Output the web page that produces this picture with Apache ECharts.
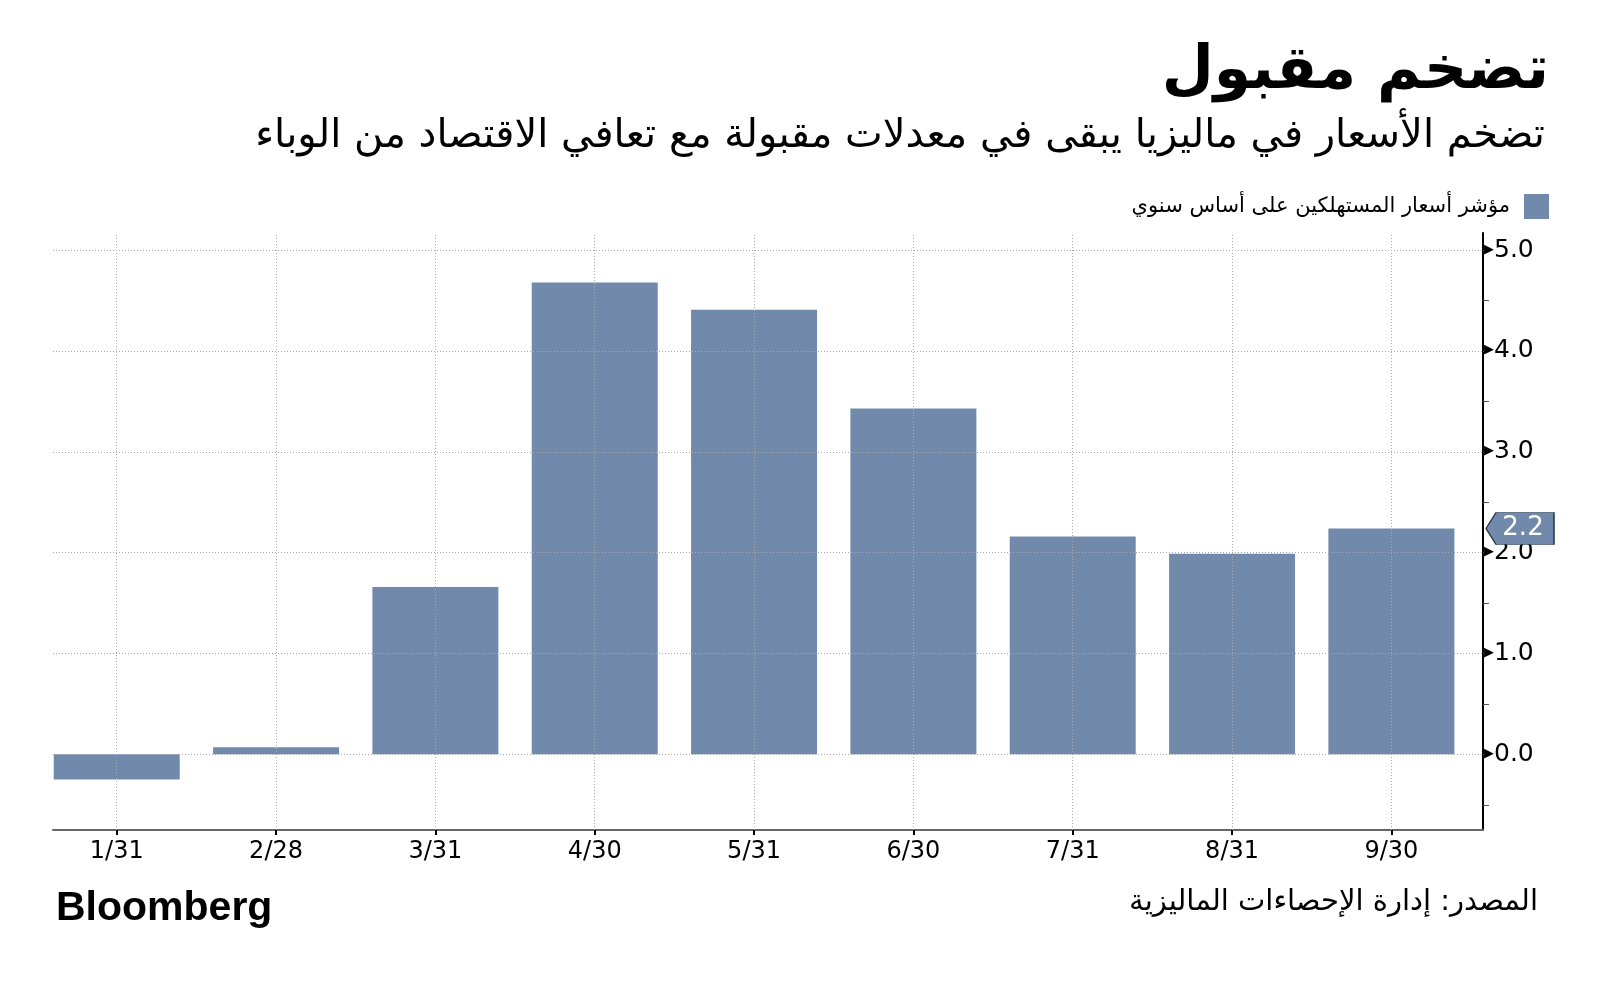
<!DOCTYPE html>
<html>
<head>
<meta charset="utf-8">
<script src="https://cdn.jsdelivr.net/npm/echarts@6/dist/echarts.min.js"></script>
<style>
html,body{margin:0;padding:0;background:#fff;}
#c{width:1600px;height:987px;}
</style>
</head>
<body>
<div id="c"></div>
<script>
const title = 'تضخم مقبول';
const subtitle = 'تضخم الأسعار في ماليزيا يبقى في معدلات مقبولة مع تعافي الاقتصاد من الوباء';
const seriesName = 'مؤشر أسعار المستهلكين على أساس سنوي';
const source = 'المصدر: إدارة الإحصاءات الماليزية';
const categories = ['1/31', '2/28', '3/31', '4/30', '5/31', '6/30', '7/31', '8/31', '9/30'];
const values = [-0.25, 0.07, 1.66, 4.68, 4.41, 3.43, 2.16, 1.99, 2.24];
const yMajorTicks = [0, 1, 2, 3, 4, 5];
const yAllTicks = [-0.5, 0, 0.5, 1, 1.5, 2, 2.5, 3, 3.5, 4, 4.5, 5];

const BAR = '#7189ab';
const idx = categories.map((c, i) => i);
const xMin = -0.4, xMax = 8.575;
const yMin = -0.75, yMax = 5.17;
const last = values[values.length - 1];

const chart = echarts.init(document.getElementById('c'), null, {renderer: 'canvas'});
chart.setOption({
  backgroundColor: '#fff',
  animation: false,
  title: [
    {text: title, right: 46, top: 37, textStyle: {fontFamily: 'DejaVu Sans', fontSize: 60, fontWeight: 'bold', color: '#000'}},
    {text: subtitle, right: 50, top: 112, textStyle: {fontFamily: 'DejaVu Sans', fontSize: 40, fontWeight: 'normal', color: '#000'}},
    {text: 'Bloomberg', left: 51, top: 883, textStyle: {fontFamily: 'Liberation Sans', fontSize: 41, fontWeight: 'bold', color: '#000'}},
    {text: source, right: 57, top: 883, textStyle: {fontFamily: 'DejaVu Sans', fontSize: 29, fontWeight: 'normal', color: '#000'}}
  ],
  legend: {
    right: 46, top: 189, align: 'right', itemWidth: 25, itemHeight: 25, itemGap: 10,
    icon: 'rect',
    textStyle: {fontFamily: 'DejaVu Sans', fontSize: 21, color: '#000', padding: [0, 9, 0, 0]},
    data: [seriesName]
  },
  grid: {left: 53, right: 117, top: 233, bottom: 157, containLabel: false},
  xAxis: {
    type: 'value', min: xMin, max: xMax,
    axisLine: {show: true, onZero: false, lineStyle: {color: '#666', width: 2}},
    axisTick: {show: true, customValues: idx, inside: false, length: 5, lineStyle: {color: '#000', width: 2}},
    axisLabel: {show: true, customValues: idx, margin: 10, fontFamily: 'DejaVu Sans', fontSize: 24, color: '#000',
      formatter: v => categories[Math.round(v)] || ''},
    splitLine: {show: false}
  },
  yAxis: {
    type: 'value', position: 'right', min: yMin, max: yMax,
    axisLine: {show: true, onZero: false, lineStyle: {color: '#000', width: 2}},
    axisTick: {show: true, customValues: yAllTicks, inside: false, length: 6, lineStyle: {color: '#555', width: 1}},
    axisLabel: {show: true, customValues: yMajorTicks, margin: 1, fontFamily: 'DejaVu Sans', fontSize: 25, color: '#000',
      formatter: v => '{t|▶}{v|' + v.toFixed(1) + '}',
      rich: {t: {fontSize: 13, color: '#000', padding: [0, 0, 2, 0]}, v: {fontSize: 25, fontFamily: 'DejaVu Sans', color: '#000'}}},
    splitLine: {show: false}
  },
  series: [
    {
      type: 'line', data: [], z: 1, silent: true, symbol: 'none',
      markLine: {
        silent: true, symbol: 'none', label: {show: false},
        lineStyle: {color: '#aaa', type: [1, 2], width: 1},
        data: yMajorTicks.map(v => ({yAxis: v})).concat(idx.map(v => ({xAxis: v})))
      }
    },
    {
      name: seriesName, type: 'bar', z: 3,
      barWidth: 126,
      itemStyle: {color: BAR},
      data: values.map((v, i) => [i, v]),
      markPoint: {
        symbol: 'path://M0,16 L10,0 L68,0 L68,32 L10,32 Z',
        symbolSize: [68, 32], symbolKeepAspect: false,
        symbolOffset: [37, 0],
        itemStyle: {color: BAR, borderColor: '#1e2d40', borderWidth: 1},
        label: {show: true, position: 'inside', offset: [3, 0], color: '#fff', fontFamily: 'DejaVu Sans', fontSize: 26,
          formatter: p => (Math.round(p.value * 10) / 10).toFixed(1)},
        data: [{coord: [xMax, last], value: last}]
      }
    }
  ]
});
</script>
</body>
</html>
